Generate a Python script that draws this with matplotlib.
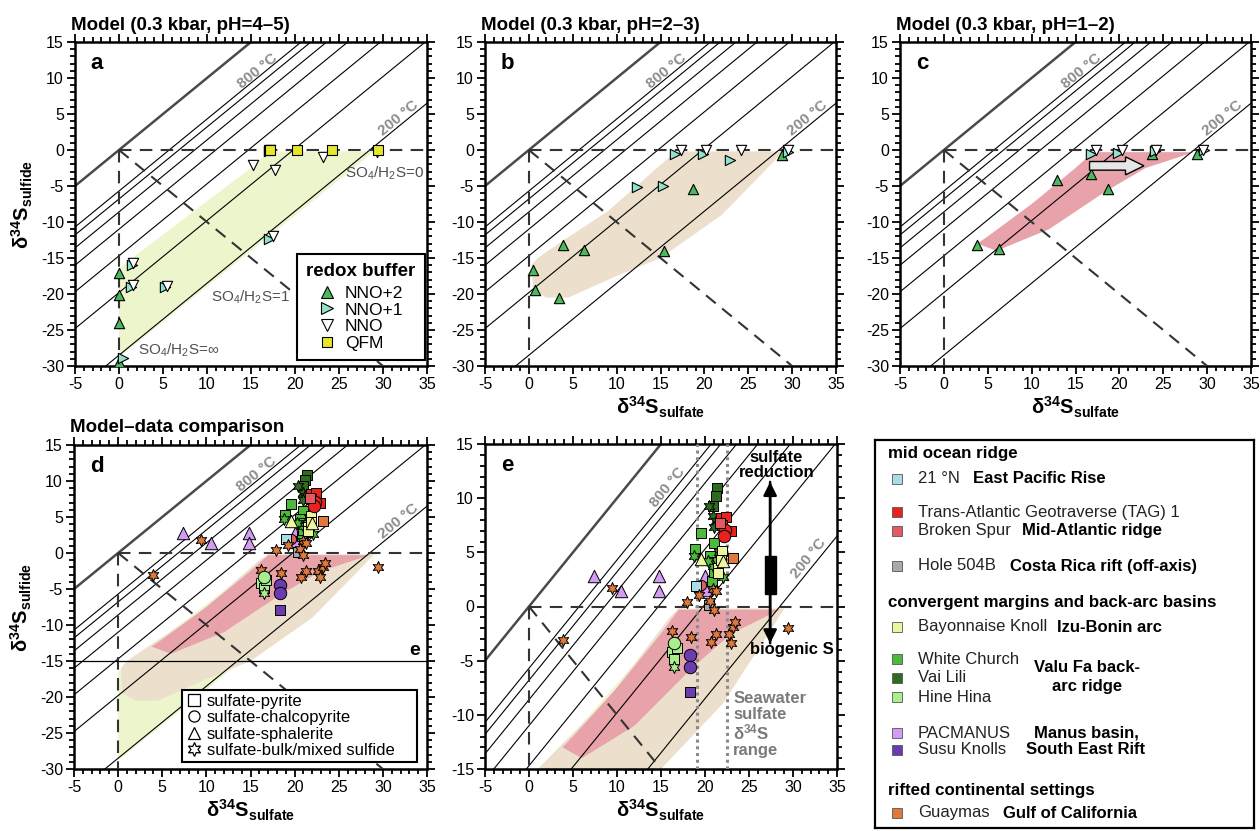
import matplotlib
matplotlib.use('Agg')
import matplotlib.pyplot as plt
from matplotlib.patches import Polygon, Rectangle, FancyArrow
from matplotlib.lines import Line2D
from matplotlib.ticker import MultipleLocator

plt.rcParams['font.family'] = ['Liberation Sans', 'DejaVu Sans']
plt.rcParams['mathtext.fontset'] = 'custom'
plt.rcParams['mathtext.rm'] = 'Liberation Sans'
plt.rcParams['mathtext.it'] = 'Liberation Sans:italic'
plt.rcParams['mathtext.bf'] = 'Liberation Sans:bold'
plt.rcParams['axes.unicode_minus'] = False

# ---------------- data ----------------
# isotherm offsets (delta34S sulfate - sulfide), 800 °C ... 200 °C
isotherm_offsets = [5.7, 6.8, 8.6, 11.0, 14.7, 19.8, 28.5]

# model field outlines
field_a_x = [0.0, 1.5, 15.0, 17.0, 29.0, 0.0]
field_a_y = [-16.5, -15.0, -2.5, -0.2, -0.2, -28.8]
field_b_x = [0.3, 0.5, 2.0, 4.5, 10.0, 15.0, 22.0, 28.0, 29.0, 17.0, 16.0, 9.0, 4.0, 1.0]
field_b_y = [-16.0, -19.5, -20.5, -20.5, -17.5, -15.0, -9.0, -1.5, -0.2, -0.2, -1.0, -8.5, -12.5, -15.0]
field_c_x = [3.8, 6.0, 12.0, 18.5, 23.0, 28.5, 17.0, 15.0, 10.0, 5.0]
field_c_y = [-13.0, -14.0, -11.0, -5.7, -2.5, -0.3, -0.3, -2.5, -7.5, -12.0]

# model results, panel a (pH 4-5)
a_nno2_x = [0.0, 0.0, 0.0, 0.0]
a_nno2_y = [-17.1, -20.1, -24.0, -29.4]
a_nno1_x = [1.5, 1.4, 5.2, 17.0, 0.5, 17.0]
a_nno1_y = [-16.0, -19.0, -19.0, -12.3, -28.9, -0.2]
a_nno_x = [1.6, 1.6, 5.4, 17.5, 15.2, 17.7, 23.2, 29.3, 17.2]
a_nno_y = [-15.7, -18.8, -18.9, -12.0, -2.1, -2.8, -1.0, -0.3, 0.0]
a_qfm_x = [17.0, 17.2, 20.2, 24.2, 29.4]
a_qfm_y = [0.0, 0.0, 0.0, 0.0, 0.0]

# panel b (pH 2-3)
b_nno2_x = [0.5, 0.7, 3.4, 3.9, 6.3, 15.4, 18.7, 28.8]
b_nno2_y = [-16.7, -19.5, -20.6, -13.2, -13.9, -14.0, -5.4, -0.7]
b_nno1_x = [12.3, 15.3, 22.9, 16.7, 19.8, 29.5]
b_nno1_y = [-5.1, -5.0, -1.4, -0.6, -0.5, -0.3]
b_nno_x = [17.3, 20.2, 24.2, 29.5]
b_nno_y = [0.0, 0.0, 0.0, 0.0]

# panel c (pH 1-2)
c_nno2_x = [3.8, 6.3, 12.9, 16.8, 18.7, 28.8, 23.7]
c_nno2_y = [-13.2, -13.8, -4.2, -3.3, -5.4, -0.6, -0.5]
c_nno1_x = [16.8, 19.9, 24.1, 29.6]
c_nno1_y = [-0.5, -0.4, -0.1, 0.0]
c_nno_x = [17.3, 20.3, 24.2, 29.5]
c_nno_y = [0.0, 0.0, 0.0, 0.0]

# natural data (sulfate, sulfide) by site and mineral pair
epr_py_x, epr_py_y = [19.0], [1.9]
tag_py_x, tag_py_y = [21.8, 22.4, 21.9, 22.9], [8.2, 8.3, 7.5, 7.0]
tag_cp_x, tag_cp_y = [22.3, 22.2], [7.1, 6.5]
bsp_py_x, bsp_py_y = [21.7], [7.7]
bsp_cp_x, bsp_cp_y = [19.6], [2.0]
h504_py_x, h504_py_y = [20.4], [0.1]
bay_py_x, bay_py_y = [21.9, 21.5, 21.5, 21.8], [5.1, 3.6, 3.1, 4.3]
bay_sp_x, bay_sp_y = [19.6, 22.0], [4.4, 4.2]
wch_py_x = [19.6, 21.0, 18.9, 20.6, 21.1, 20.8, 21.0]
wch_py_y = [6.8, 5.9, 5.3, 4.7, 4.1, 2.4, 3.2]
wch_bk_x = [18.8, 22.1, 20.9, 21.6, 20.3]
wch_bk_y = [4.7, 2.7, 3.7, 5.0, 4.2]
vai_py_x, vai_py_y = [21.4, 21.2, 20.9], [10.9, 10.2, 9.3]
vai_bk_x, vai_bk_y = [20.4, 20.9, 21.2, 21.0], [9.3, 8.4, 7.9, 7.3]
hine_cp_x, hine_cp_y = [16.5], [-3.4]
hine_py_x, hine_py_y = [16.2, 16.5, 16.8], [-4.2, -4.8, -3.8]
hine_bk_x, hine_bk_y = [16.5], [-5.6]
pac_sp_x = [7.4, 10.5, 14.8, 14.8, 20.0, 20.1]
pac_sp_y = [2.8, 1.4, 2.8, 1.4, 2.8, 1.5]
susu_cp_x, susu_cp_y = [18.3, 18.3], [-4.5, -5.6]
susu_py_x, susu_py_y = [18.3], [-7.9]
guay_py_x, guay_py_y = [23.2], [4.5]
guay_bk_x = [3.9, 9.4, 16.2, 18.4, 17.9, 19.3, 20.7, 21.3, 20.9, 21.3, 20.6, 21.0,
             22.7, 22.9, 23.2, 23.4, 29.4]
guay_bk_y = [-3.1, 1.75, -2.3, -2.8, 0.45, 1.05, -3.3, -2.5, 1.6, 1.4, 0.55, -0.3,
             -2.5, -3.4, -1.9, -1.4, -2.0]

# ---------------- styles ----------------
C_NNO2, C_NNO1, C_NNO, C_QFM = '#4cb85c', '#8fe3cc', '#ffffff', '#e6e62e'
C_FA, C_FB, C_FC = '#ecf5cc', '#ece0cc', '#e8a2aa'
C_EPR, C_TAG, C_BSP, C_504 = '#a8dce6', '#e8221e', '#e45a64', '#a8a8a8'
C_BAY, C_WCH, C_VAI, C_HINE = '#eef5a0', '#4cba3a', '#2e6b1e', '#a8ee8e'
C_PAC, C_SUSU, C_GUAY = '#d39cf2', '#6a3cb0', '#e07a3c'
STAR = (6, 1, 0)
GRAY = '#8c8c8c'
TICK_FS = 11.5
LAB_FS = 14.5
TITLE_FS = 13.5

fig = plt.figure(figsize=(12.6, 8.31), dpi=100)
W, H = 1260.0, 831.0


def add_axes_px(x0, y0, x1, y1):
    return fig.add_axes([x0 / W, 1 - y1 / H, (x1 - x0) / W, (y1 - y0) / H])


def base(ax, ymin, letter):
    ax.set_xlim(-5, 35)
    ax.set_ylim(ymin, 15)
    ax.xaxis.set_major_locator(MultipleLocator(5))
    ax.xaxis.set_minor_locator(MultipleLocator(1))
    ax.yaxis.set_major_locator(MultipleLocator(5))
    ax.yaxis.set_minor_locator(MultipleLocator(1))
    ax.tick_params(which='both', direction='out', top=True, right=True, width=1.3,
                   labelsize=TICK_FS, colors='k')
    ax.tick_params(which='major', length=6, pad=2)
    ax.tick_params(which='minor', length=3.5)
    for s in ax.spines.values():
        s.set_linewidth(1.8)
    for d in isotherm_offsets:
        ax.plot([-5, 35], [-5 - d, 35 - d], color='k', lw=0.8, zorder=2)
    ax.plot([-5, 35], [-5, 35], color='#4a4a4a', lw=1.8, zorder=2)
    dash = dict(color='#333333', lw=1.5, dashes=(6, 4), zorder=3)
    ax.plot([0, 35], [0, 0], **dash)
    ax.plot([0, 0], [0, ymin], **dash)
    ax.plot([0, 35], [0, -35], **dash)
    ax.text(15.7, 11.0, '800 °C', rotation=45, transform_rotates_text=True,
            rotation_mode='anchor', ha='center', va='center', color=GRAY,
            fontweight='bold', fontsize=11, zorder=4)
    ax.text(31.8, 4.4, '200 °C', rotation=45, transform_rotates_text=True,
            rotation_mode='anchor', ha='center', va='center', color=GRAY,
            fontweight='bold', fontsize=11, zorder=4)
    ax.text(0.045, 0.935, letter, transform=ax.transAxes, fontsize=16,
            fontweight='bold', ha='left', va='center', zorder=6)


def field(ax, xs, ys, color):
    ax.add_patch(Polygon(list(zip(xs, ys)), closed=True, fc=color, ec='none', zorder=1))


XLAB = r'$\mathbf{δ^{34}S_{sulfate}}$'
YLAB = r'$\mathbf{δ^{34}S_{sulfide}}$'


def model_pts(ax, x, y, marker, color):
    ax.scatter(x, y, marker=marker, s=55, c=color, edgecolors='k', linewidths=0.8, zorder=5)


def title(ax, t):
    ax.set_title(t, loc='left', fontsize=TITLE_FS, fontweight='bold', pad=9, x=-0.01)


# ---------------- panel a ----------------
axa = add_axes_px(75, 42, 427, 366)
base(axa, -30, 'a')
field(axa, field_a_x, field_a_y, C_FA)
model_pts(axa, a_nno2_x, a_nno2_y, '^', C_NNO2)
model_pts(axa, a_nno1_x, a_nno1_y, '>', C_NNO1)
model_pts(axa, a_nno_x, a_nno_y, 'v', C_NNO)
model_pts(axa, a_qfm_x, a_qfm_y, 's', C_QFM)
title(axa, 'Model (0.3 kbar, pH=4–5)')
axa.set_ylabel(YLAB, fontsize=LAB_FS, labelpad=4)
so_kw = dict(fontsize=11, color='#505050', va='center', zorder=4)
axa.text(25.7, -3.3, r'SO$_4$/H$_2$S=0', **so_kw)
axa.text(10.5, -20.4, r'SO$_4$/H$_2$S=1', **so_kw)
axa.text(2.2, -27.8, r'SO$_4$/H$_2$S=∞', **so_kw)
hs = [Line2D([], [], ls='', marker='^', ms=9, mfc=C_NNO2, mec='k', mew=0.8, label='NNO+2'),
      Line2D([], [], ls='', marker='>', ms=9, mfc=C_NNO1, mec='k', mew=0.8, label='NNO+1'),
      Line2D([], [], ls='', marker='v', ms=9, mfc=C_NNO, mec='k', mew=0.8, label='NNO'),
      Line2D([], [], ls='', marker='s', ms=7.5, mfc=C_QFM, mec='k', mew=0.8, label='QFM')]
lg = axa.legend(handles=hs, title='redox buffer', loc='lower right', bbox_to_anchor=(0.994, 0.018),
                frameon=True, fancybox=False, edgecolor='k', framealpha=1, fontsize=12.5,
                title_fontproperties={'weight': 'bold', 'size': 13.5}, borderaxespad=0.0,
                handletextpad=0.55, labelspacing=0.08, handlelength=1.0, borderpad=0.55)
lg._legend_box.sep = 4
lg.get_frame().set_linewidth(1.5)
lg.set_zorder(7)

# ---------------- panel b ----------------
axb = add_axes_px(485, 42, 836, 366)
base(axb, -30, 'b')
field(axb, field_b_x, field_b_y, C_FB)
model_pts(axb, b_nno2_x, b_nno2_y, '^', C_NNO2)
model_pts(axb, b_nno1_x, b_nno1_y, '>', C_NNO1)
model_pts(axb, b_nno_x, b_nno_y, 'v', C_NNO)
title(axb, 'Model (0.3 kbar, pH=2–3)')
axb.set_xlabel(XLAB, fontsize=LAB_FS, labelpad=2)

# ---------------- panel c ----------------
axc = add_axes_px(900, 42, 1251, 366)
base(axc, -30, 'c')
field(axc, field_c_x, field_c_y, C_FC)
model_pts(axc, c_nno2_x, c_nno2_y, '^', C_NNO2)
model_pts(axc, c_nno1_x, c_nno1_y, '>', C_NNO1)
model_pts(axc, c_nno_x, c_nno_y, 'v', C_NNO)
axc.add_patch(FancyArrow(16.6, -2.2, 6.2, 0, width=1.2, head_width=2.5, head_length=2.1,
                         length_includes_head=True, fc='#e6e6e6', ec='k', lw=1.0, zorder=6))
title(axc, 'Model (0.3 kbar, pH=1–2)')
axc.set_xlabel(XLAB, fontsize=LAB_FS, labelpad=2)


# ---------------- natural data ----------------
def nat(ax, x, y, marker, color, s=55):
    ax.scatter(x, y, marker=marker, s=s, c=color, edgecolors='k', linewidths=0.7, zorder=5)


def data_panel(ax):
    field(ax, field_a_x, field_a_y, C_FA)
    field(ax, field_b_x, field_b_y, C_FB)
    field(ax, field_c_x, field_c_y, C_FC)
    nat(ax, pac_sp_x, pac_sp_y, '^', C_PAC, 80)
    nat(ax, vai_py_x, vai_py_y, 's', C_VAI)
    nat(ax, vai_bk_x, vai_bk_y, STAR, C_VAI, 75)
    nat(ax, wch_py_x, wch_py_y, 's', C_WCH)
    nat(ax, wch_bk_x, wch_bk_y, STAR, C_WCH, 75)
    nat(ax, bay_py_x, bay_py_y, 's', C_BAY)
    nat(ax, bay_sp_x, bay_sp_y, '^', C_BAY, 80)
    nat(ax, tag_py_x, tag_py_y, 's', C_TAG)
    nat(ax, tag_cp_x, tag_cp_y, 'o', C_TAG, 80)
    nat(ax, bsp_py_x, bsp_py_y, 's', C_BSP)
    nat(ax, bsp_cp_x, bsp_cp_y, 'o', C_BSP)
    nat(ax, epr_py_x, epr_py_y, 's', C_EPR)
    nat(ax, h504_py_x, h504_py_y, 's', C_504)
    nat(ax, guay_py_x, guay_py_y, 's', C_GUAY)
    nat(ax, guay_bk_x, guay_bk_y, STAR, C_GUAY, 75)
    nat(ax, hine_py_x, hine_py_y, 's', C_HINE)
    nat(ax, hine_cp_x, hine_cp_y, 'o', C_HINE, 80)
    nat(ax, hine_bk_x, hine_bk_y, STAR, C_HINE, 75)
    nat(ax, susu_cp_x, susu_cp_y, 'o', C_SUSU, 80)
    nat(ax, susu_py_x, susu_py_y, 's', C_SUSU, 42)


# ---------------- panel d ----------------
axd = add_axes_px(74, 445, 427, 769)
base(axd, -30, 'd')
data_panel(axd)
axd.axhline(-15, color='k', lw=0.9, zorder=3)
axd.text(33.6, -13.6, 'e', fontsize=14, fontweight='bold', ha='center', va='center', zorder=6)
title(axd, 'Model–data comparison')
axd.set_xlabel(XLAB, fontsize=LAB_FS, labelpad=2)
axd.set_ylabel(YLAB, fontsize=LAB_FS, labelpad=4)
hd = [Line2D([], [], ls='', marker='s', ms=8, mfc='w', mec='k', mew=0.9, label='sulfate-pyrite'),
      Line2D([], [], ls='', marker='o', ms=8, mfc='w', mec='k', mew=0.9, label='sulfate-chalcopyrite'),
      Line2D([], [], ls='', marker='^', ms=9, mfc='w', mec='k', mew=0.9, label='sulfate-sphalerite'),
      Line2D([], [], ls='', marker=STAR, ms=10, mfc='w', mec='k', mew=0.9, label='sulfate-bulk/mixed sulfide')]
lg2 = axd.legend(handles=hd, loc='lower left', bbox_to_anchor=(0.306, 0.0216, 0.666, 0.2315),
                 mode='expand', frameon=True, fancybox=False,
                 edgecolor='k', framealpha=1, fontsize=12, borderaxespad=0.0, handletextpad=0.35,
                 labelspacing=0.08, handlelength=0.9, borderpad=0.25)
lg2.get_frame().set_linewidth(1.5)
lg2.set_zorder(7)

# ---------------- panel e ----------------
axe = add_axes_px(485, 444, 837, 769)
base(axe, -15, 'e')
data_panel(axe)
for xv in (19.1, 22.5):
    axe.plot([xv, xv], [-15, 15], color='#8a8a8a', lw=2.2, ls=(0, (1, 1.2)), zorder=3)
axe.text(23.2, -7.8, 'Seawater\nsulfate\n' + r'$\mathbf{δ^{34}S}$' + '\nrange', color='#7a7a7a',
         fontsize=12, fontweight='bold', ha='left', va='top', linespacing=1.05, zorder=6)
axe.annotate('', xy=(27.4, 11.5), xytext=(27.4, -3.4),
             arrowprops=dict(arrowstyle='-|>', lw=1.8, color='k', mutation_scale=20, shrinkA=0, shrinkB=0),
             zorder=6)
axe.annotate('', xy=(27.4, -3.4), xytext=(27.4, 11.5),
             arrowprops=dict(arrowstyle='-|>', lw=1.8, color='k', mutation_scale=20, shrinkA=0, shrinkB=0),
             zorder=6)
axe.add_patch(Rectangle((26.8, 1.2), 1.25, 3.45, fc='k', ec='k', zorder=6))
axe.text(28.1, 13.1, 'sulfate\nreduction', fontsize=12, fontweight='bold', ha='center', va='center',
         linespacing=1.0, zorder=6)
axe.text(29.9, -4.0, 'biogenic S', fontsize=12, fontweight='bold', ha='center', va='center', zorder=6)
axe.set_xlabel(XLAB, fontsize=LAB_FS, labelpad=2)

# ---------------- site legend ----------------
axl = add_axes_px(875, 440, 1254, 828)
axl.set_xlim(0, 379)
axl.set_ylim(388, 0)
axl.set_xticks([])
axl.set_yticks([])
for s in axl.spines.values():
    s.set_linewidth(1.6)

headers = [('mid ocean ridge', 14), ('convergent margins and back-arc basins', 163),
           ('rifted continental settings', 350)]
for t, yy in headers:
    axl.text(13, yy, t, fontsize=12.2, fontweight='bold', va='center', ha='left')

site_names = ['21 °N', 'Trans-Atlantic Geotraverse (TAG) 1', 'Broken Spur', 'Hole 504B',
              'Bayonnaise Knoll', 'White Church', 'Vai Lili', 'Hine Hina', 'PACMANUS',
              'Susu Knolls', 'Guaymas']
site_colors = [C_EPR, C_TAG, C_BSP, C_504, C_BAY, C_WCH, C_VAI, C_HINE, C_PAC, C_SUSU, C_GUAY]
site_rows = [39, 72, 91, 126, 187, 219, 238, 257, 293, 310, 373]
for name, col, yy in zip(site_names, site_colors, site_rows):
    axl.plot([22], [yy], ls='', marker='s', ms=7.5, mfc=col, mec='#555555', mew=0.6)
    axl.text(43, yy, name, fontsize=12, va='center', ha='left', color='#222222')

regions = [('East Pacific Rise', 98, 39, 'left'), ('Mid-Atlantic ridge', 147, 91, 'left'),
           ('Costa Rica rift (off-axis)', 135, 126, 'left'), ('Izu-Bonin arc', 182, 187, 'left'),
           ('Valu Fa back-', 212, 228, 'center'), ('arc ridge', 212, 246, 'center'),
           ('Manus basin,', 211, 293, 'center'), ('South East Rift', 211, 310, 'center'),
           ('Gulf of California', 128, 373, 'left')]
for t, xx, yy, ha in regions:
    axl.text(xx, yy, t, fontsize=12, fontweight='bold', va='center', ha=ha)

fig.savefig('out.png', dpi=100)
